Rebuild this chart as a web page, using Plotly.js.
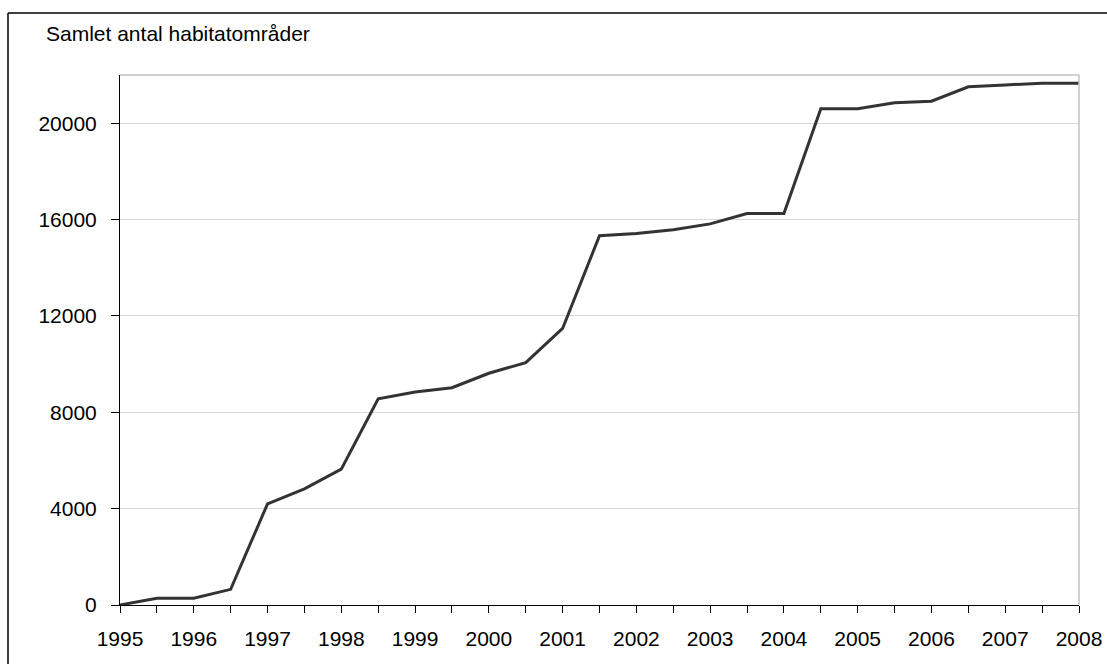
<!DOCTYPE html>
<html>
<head>
<meta charset="utf-8">
<script src="https://cdn.plot.ly/plotly-3.0.1.min.js"></script>
<style>html,body{margin:0;padding:0;background:#fff;}#chart{width:1107px;height:664px;}</style>
</head>
<body>
<div id="chart"></div>
<script>
var periods = [1995, 1995.5, 1996, 1996.5, 1997, 1997.5, 1998, 1998.5, 1999, 1999.5,
               2000, 2000.5, 2001, 2001.5, 2002, 2002.5, 2003, 2003.5, 2004, 2004.5,
               2005, 2005.5, 2006, 2006.5, 2007, 2007.5, 2008];
var habitatAreas = [0, 280, 280, 650, 4200, 4820, 5640, 8560, 8840, 9020,
                    9620, 10060, 11480, 15330, 15420, 15580, 15820, 16250, 16250, 20600,
                    20600, 20850, 20910, 21510, 21590, 21660, 21660];
var yearTicks = [1995, 1996, 1997, 1998, 1999, 2000, 2001, 2002, 2003, 2004, 2005, 2006, 2007, 2008];
var yTicks = [0, 4000, 8000, 12000, 16000, 20000];
var titleText = "Samlet antal habitatområder";

var trace = {
  x: periods, y: habitatAreas, type: 'scatter', mode: 'lines',
  line: {color: '#333333', width: 3}, hoverinfo: 'skip'
};

var W = 1107, H = 664, ml = 120, mr = 28, mt = 75, mb = 59;
var pw = W - ml - mr, ph = H - mt - mb;
function px(x){ return (x - ml) / pw; }
function py(y){ return 1 - (y - mt) / ph; }

var layout = {
  width: W, height: H,
  margin: {l: ml, r: mr, t: mt, b: mb, pad: 0},
  paper_bgcolor: '#ffffff', plot_bgcolor: '#ffffff',
  showlegend: false,
  font: {family: 'Liberation Sans, Arial, sans-serif', size: 21, color: '#000'},
  xaxis: {
    range: [1995, 2008], tickmode: 'array', tickvals: yearTicks,
    ticktext: yearTicks.map(String),
    ticks: 'outside', ticklen: 7, tickcolor: '#000', tickwidth: 1,
    minor: {dtick: 0.5, tick0: 1995, ticks: 'outside', ticklen: 7, tickcolor: '#000', tickwidth: 1, showgrid: false},
    showgrid: false, zeroline: false,
    showline: true, linecolor: '#000', linewidth: 1,
    tickfont: {size: 21, color: '#000'}, ticklabelstandoff: 8, fixedrange: true
  },
  yaxis: {
    range: [0, 22000], tickmode: 'array', tickvals: yTicks,
    ticktext: yTicks.map(String),
    ticks: 'outside', ticklen: 8, tickcolor: '#000', tickwidth: 1,
    showgrid: true, gridcolor: '#d9d9d9', gridwidth: 1, zeroline: false,
    showline: true, linecolor: '#000', linewidth: 1,
    tickfont: {size: 21, color: '#000'}, ticklabelstandoff: 10, fixedrange: true
  },
  shapes: [
    {type: 'line', xref: 'paper', yref: 'paper', x0: 0, x1: 1, y0: 1, y1: 1, line: {color: '#c0c0c0', width: 1.5}},
    {type: 'line', xref: 'paper', yref: 'paper', x0: 1, x1: 1, y0: 0, y1: 1, line: {color: '#c0c0c0', width: 1.5}},
    {type: 'line', xref: 'paper', yref: 'paper', x0: px(8), x1: px(1110), y0: py(13), y1: py(13), line: {color: '#000', width: 1.5}},
    {type: 'line', xref: 'paper', yref: 'paper', x0: px(8), x1: px(8), y0: py(13), y1: py(668), line: {color: '#000', width: 1.5}}
  ],
  annotations: [
    {text: titleText, xref: 'paper', yref: 'paper', x: px(44), y: py(34), xanchor: 'left', yanchor: 'middle',
     showarrow: false, font: {size: 21, color: '#000'}}
  ]
};

Plotly.newPlot('chart', [trace], layout, {displayModeBar: false, staticPlot: true});
</script>
</body>
</html>
